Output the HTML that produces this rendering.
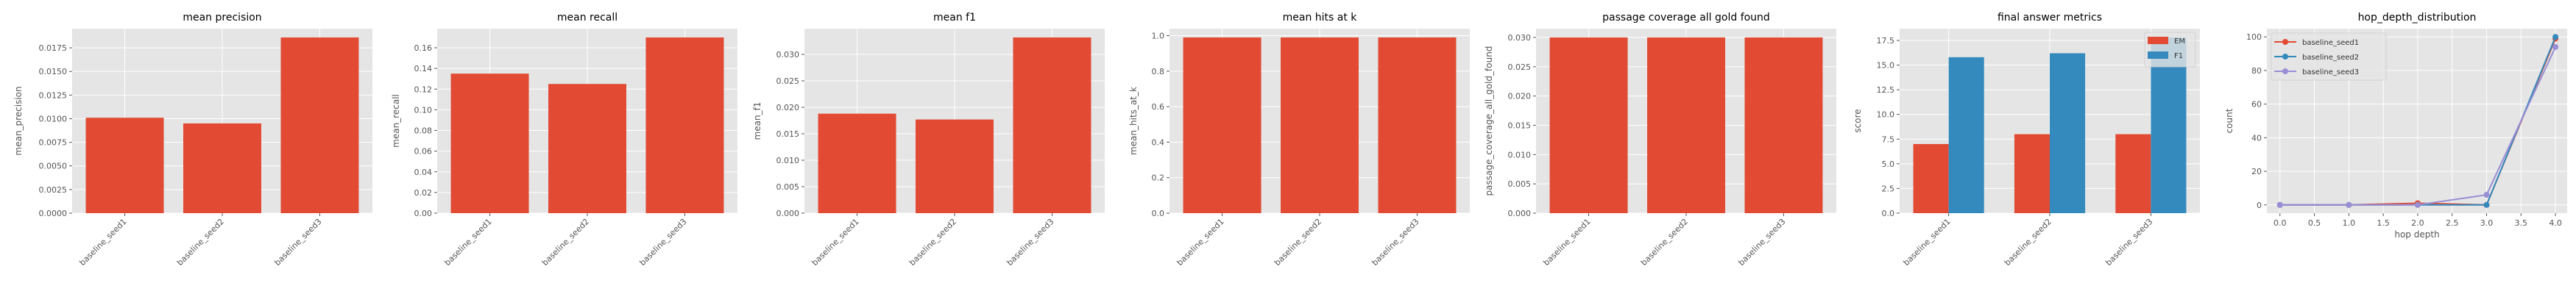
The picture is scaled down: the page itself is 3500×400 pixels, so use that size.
<!DOCTYPE html>
<html><head><meta charset="utf-8"><style>
html,body{margin:0;padding:0;background:#fff;}
svg{display:block;font-family:"DejaVu Sans","Liberation Sans",sans-serif;}
</style></head><body>
<svg id="fig" width="3500" height="400" viewBox="0 0 3500 400" xmlns="http://www.w3.org/2000/svg"></svg>
<script>
const categories = ["baseline_seed1","baseline_seed2","baseline_seed3"];
const precisionValues = [0.0101, 0.0095, 0.0186];
const precisionTicks = [0,0.0025,0.005,0.0075,0.01,0.0125,0.015,0.0175];
const precisionTickLabels = ["0.0000","0.0025","0.0050","0.0075","0.0100","0.0125","0.0150","0.0175"];
const recallValues = [0.135, 0.125, 0.170];
const recallTicks = [0,0.02,0.04,0.06,0.08,0.10,0.12,0.14,0.16];
const recallTickLabels = ["0.00","0.02","0.04","0.06","0.08","0.10","0.12","0.14","0.16"];
const f1Values = [0.0188, 0.0177, 0.0332];
const f1Ticks = [0,0.005,0.01,0.015,0.02,0.025,0.03];
const f1TickLabels = ["0.000","0.005","0.010","0.015","0.020","0.025","0.030"];
const hitsValues = [0.99, 0.99, 0.99];
const hitsTicks = [0,0.2,0.4,0.6,0.8,1.0];
const hitsTickLabels = ["0.0","0.2","0.4","0.6","0.8","1.0"];
const coverageValues = [0.030, 0.030, 0.030];
const coverageTicks = [0,0.005,0.01,0.015,0.02,0.025,0.03];
const coverageTickLabels = ["0.000","0.005","0.010","0.015","0.020","0.025","0.030"];
const emValues = [7.0, 8.0, 8.0];
const answerF1Values = [15.8, 16.2, 17.8];
const scoreTicks = [0,2.5,5,7.5,10,12.5,15,17.5];
const scoreTickLabels = ["0.0","2.5","5.0","7.5","10.0","12.5","15.0","17.5"];
const hopDepths = [0,1,2,3,4];
const hopSeed1 = [0,0,1,0,99];
const hopSeed2 = [0,0,0,0,100];
const hopSeed3 = [0,0,0,6,94];
const hopSeriesNames = ["baseline_seed1","baseline_seed2","baseline_seed3"];
const hopXTicks = [0,0.5,1,1.5,2,2.5,3,3.5,4];
const hopXTickLabels = ["0.0","0.5","1.0","1.5","2.0","2.5","3.0","3.5","4.0"];
const hopYTicks = [0,20,40,60,80,100];
const hopYTickLabels = ["0","20","40","60","80","100"];

const NS="http://www.w3.org/2000/svg";
const svg=document.getElementById('fig');
const TOP=39, BOT=290, W=408;
const RED="#E24A33", BLUE="#348ABD", PURPLE="#988ED5";
function mk(tag,attrs,parent){const e=document.createElementNS(NS,tag);for(const k in attrs)e.setAttribute(k,attrs[k]);(parent||svg).appendChild(e);return e;}
function txt(s,attrs,parent){const e=mk('text',attrs,parent);e.textContent=s;return e;}

function makeAxes(left,name,title,ylabel,ymin,ymax,xmin,xmax,yticks,ytl,xticks,xtl,rotate,xlabel,yoff){
  const g=mk('g',{});
  
  
  const sx=v=>left+(v-xmin)/(xmax-xmin)*W;
  const sy=v=>BOT-(v-ymin)/(ymax-ymin)*(BOT-TOP);
  const bg=mk('rect',{x:left,y:TOP,width:W,height:BOT-TOP,fill:"#E5E5E5"},g);
  
  
  yticks.forEach((t,i)=>{
    const y=sy(t);
    mk('line',{x1:left,x2:left+W,y1:y,y2:y,stroke:"#fff","stroke-width":1},g);
    mk('line',{x1:left-4,x2:left,y1:y,y2:y,stroke:"#555","stroke-width":1},g);
    const l=txt(ytl[i],{x:left-7,y:y+4,"text-anchor":"end","font-size":11,fill:"#555"},g);
    
    
  });
  xticks.forEach((t,i)=>{
    const x=sx(t);
    mk('line',{x1:x,x2:x,y1:TOP,y2:BOT,stroke:"#fff","stroke-width":1},g);
    mk('line',{x1:x,x2:x,y1:BOT,y2:BOT+4,stroke:"#555","stroke-width":1},g);
    let l;
    if(rotate){
      l=txt(xtl[i],{x:x+3,y:BOT+12,"text-anchor":"end","font-size":11,fill:"#555",transform:`rotate(-45 ${x+3} ${BOT+12})`},g);
    } else {
      l=txt(xtl[i],{x:x,y:BOT+17,"text-anchor":"middle","font-size":11,fill:"#555"},g);
    }
    
    
  });
  const t=txt(title,{x:left+W/2,y:28,"text-anchor":"middle","font-size":14,fill:"#000"},g);
  
  
  const yl=txt(ylabel,{x:0,y:0,"text-anchor":"middle","font-size":12,fill:"#555",transform:`translate(${left-yoff+4},${(TOP+BOT)/2}) rotate(-90)`},g);
  
  
  if(xlabel){
    const xl=txt(xlabel,{x:left+W/2,y:BOT+33,"text-anchor":"middle","font-size":12,fill:"#555"},g);
    
    
  }
  return {g,sx,sy};
}

function barPanel(left,name,title,ylabel,vals,yticks,ytl,yoff){
  const ymax=Math.max(...vals)*1.05;
  const ax=makeAxes(left,name,title,ylabel,0,ymax,-0.54,2.54,yticks,ytl,[0,1,2],categories,true,null,yoff);
  vals.forEach((v,i)=>{
    const x0=ax.sx(i-0.4),x1=ax.sx(i+0.4),y=ax.sy(v);
    const r=mk('rect',{x:x0,y:y,width:x1-x0,height:ax.sy(0)-y,fill:RED},ax.g);
    
    
  });
}
barPanel(98,"mean-precision-chart","mean precision","mean_precision",precisionValues,precisionTicks,precisionTickLabels,73);
barPanel(594,"mean-recall-chart","mean recall","mean_recall",recallValues,recallTicks,recallTickLabels,56);
barPanel(1093,"mean-f1-chart","mean f1","mean_f1",f1Values,f1Ticks,f1TickLabels,64);
barPanel(1589,"mean-hits-chart","mean hits at k","mean_hits_at_k",hitsValues,hitsTicks,hitsTickLabels,49);
barPanel(2087,"passage-coverage-chart","passage coverage all gold found","passage_coverage_all_gold_found",coverageValues,coverageTicks,coverageTickLabels,64);

// final answer metrics
(function(){
  const ymax=Math.max(...emValues,...answerF1Values)*1.05;
  const ax=makeAxes(2581,"final-answer-chart","final answer metrics","score",0,ymax,-0.485,2.485,scoreTicks,scoreTickLabels,[0,1,2],categories,true,null,57);
  const bw=0.35;
  emValues.forEach((v,i)=>{
    const x0=ax.sx(i-bw),x1=ax.sx(i),y=ax.sy(v);
    const r=mk('rect',{x:x0,y:y,width:x1-x0,height:ax.sy(0)-y,fill:RED},ax.g);
    
    
  });
  answerF1Values.forEach((v,i)=>{
    const x0=ax.sx(i),x1=ax.sx(i+bw),y=ax.sy(v);
    const r=mk('rect',{x:x0,y:y,width:x1-x0,height:ax.sy(0)-y,fill:BLUE},ax.g);
    
    
  });
  const lg=mk('g',{},ax.g);
  
  
  const lx=2914,ly=44;
  mk('rect',{x:lx,y:ly,width:69,height:47,fill:"#E5E5E5","fill-opacity":0.8,stroke:"#ccc","stroke-width":0.8,rx:2},lg);
  [["EM",RED],["F1",BLUE]].forEach((e,i)=>{
    const ent=mk('g',{},lg);
    
    
    mk('rect',{x:lx+4,y:ly+6+i*20,width:28,height:10,fill:e[1]},ent);
    txt(e[0],{x:lx+40,y:ly+15+i*20,"font-size":10,fill:"#333"},ent);
  });
})();

// hop depth
(function(){
  const ax=makeAxes(3080,"hop-depth-chart","hop_depth_distribution","count",-4.9,104.9,-0.19,4.17,hopYTicks,hopYTickLabels,hopXTicks,hopXTickLabels,false,"hop depth",51);
  const series=[hopSeed1,hopSeed2,hopSeed3], colors=[RED,BLUE,PURPLE];
  series.forEach((s,k)=>{
    const sg=mk('g',{},ax.g);
    
    
    const pts=s.map((v,i)=>ax.sx(hopDepths[i])+','+ax.sy(v)).join(' ');
    mk('polyline',{points:pts,fill:"none",stroke:colors[k],"stroke-width":2},sg);
    s.forEach((v,i)=>{
      const c=mk('circle',{cx:ax.sx(hopDepths[i]),cy:ax.sy(v),r:4,fill:colors[k]},sg);
      
      
    });
  });
  const lg=mk('g',{},ax.g);
  
  
  const lx=3086,ly=45;
  mk('rect',{x:lx,y:ly,width:156,height:64,fill:"#E5E5E5","fill-opacity":0.8,stroke:"#ccc","stroke-width":0.8,rx:2},lg);
  hopSeriesNames.forEach((n,i)=>{
    const ent=mk('g',{},lg);
    
    
    const y=ly+12+i*20;
    mk('line',{x1:lx+4,x2:lx+34,y1:y,y2:y,stroke:colors[i],"stroke-width":2},ent);
    mk('circle',{cx:lx+19,cy:y,r:4,fill:colors[i]},ent);
    txt(n,{x:lx+42,y:y+4,"font-size":10,fill:"#333"},ent);
  });
})();
</script>
</body></html>
